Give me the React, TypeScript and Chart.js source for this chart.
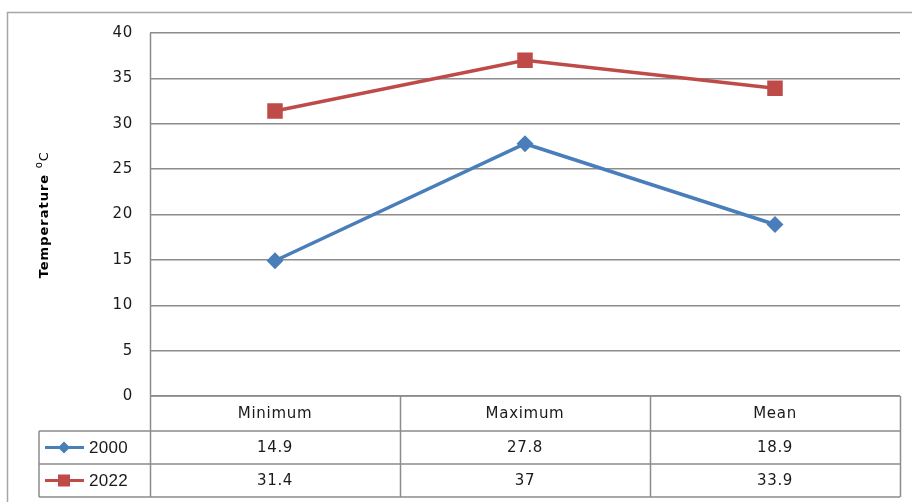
import React, { useEffect, useRef } from "react";
import { Chart, registerables } from "chart.js";

Chart.register(...registerables);

const categories = ["Minimum", "Maximum", "Mean"];
const seriesNames = ["2000", "2022"];
const values2000 = [14.9, 27.8, 18.9];
const values2022 = [31.4, 37, 33.9];
const tableLabels2000 = ["14.9", "27.8", "18.9"];
const tableLabels2022 = ["31.4", "37", "33.9"];
const yTicks = [0, 5, 10, 15, 20, 25, 30, 35, 40];

const BLUE = "#4a7ebb";
const RED = "#be4b48";
const GRID = "#8c8c8c";
const BORDER = "#a6a6a6";
const TEXT = "#1a1a1a";

const tablePlugin = {
  id: "tablePlugin",
  afterDraw(chart: any) {
    const ctx = chart.ctx as any;
    const area = chart.chartArea;
    const x = chart.scales.x;
    const y = chart.scales.y;
    const left = area.left;
    const right = area.right;
    const top = area.bottom;
    const rowH = [35, 33, 33];
    const legendLeft = 39;
    const y1 = top + rowH[0];
    const y2 = y1 + rowH[1];
    const y3 = y2 + rowH[2];
    const n = categories.length;
    const colW = (right - left) / n;

    ctx.save();
    // outer border
    ctx.strokeStyle = BORDER;
    ctx.lineWidth = 1.5;
    ctx.beginPath();
    ctx.moveTo(7.5, 502);
    ctx.lineTo(7.5, 12.5);
    ctx.lineTo(912, 12.5);
    ctx.stroke();

    ctx.strokeStyle = GRID;
    ctx.lineWidth = 1.5;
    ctx.beginPath();
    ctx.moveTo(left, top);
    ctx.lineTo(right, top);
    ctx.moveTo(legendLeft, y1);
    ctx.lineTo(right, y1);
    ctx.moveTo(legendLeft, y2);
    ctx.lineTo(right, y2);
    ctx.moveTo(legendLeft, y3);
    ctx.lineTo(right, y3);
    ctx.moveTo(legendLeft, y1);
    ctx.lineTo(legendLeft, y3);
    for (let i = 0; i <= n; i++) {
      const cx = Math.round(left + i * colW) + 0.5;
      ctx.moveTo(cx, i === 0 ? area.top : top);
      ctx.lineTo(cx, y3);
    }
    ctx.stroke();

    // y tick labels
    ctx.fillStyle = TEXT;
    ctx.letterSpacing = "0.7px";
    ctx.font = "15px 'DejaVu Sans'";
    ctx.textAlign = "right";
    ctx.textBaseline = "middle";
    for (const v of yTicks) {
      ctx.fillText(String(v), 133, y.getPixelForValue(v));
    }

    ctx.textAlign = "center";
    for (let i = 0; i < n; i++) {
      const cx = x.getPixelForValue(i);
      ctx.fillText(categories[i], cx, top + rowH[0] / 2 + 1);
      ctx.fillText(tableLabels2000[i], cx, y1 + rowH[1] / 2 + 1);
      ctx.fillText(tableLabels2022[i], cx, y2 + rowH[2] / 2 + 1);
    }

    // legend keys
    const keys = [
      { name: seriesNames[0], color: BLUE, y: y1 + rowH[1] / 2, style: "diamond" },
      { name: seriesNames[1], color: RED, y: y2 + rowH[2] / 2, style: "square" },
    ];
    for (const k of keys) {
      ctx.strokeStyle = k.color;
      ctx.lineWidth = 3;
      ctx.beginPath();
      ctx.moveTo(45, k.y);
      ctx.lineTo(84, k.y);
      ctx.stroke();
      ctx.fillStyle = k.color;
      ctx.beginPath();
      if (k.style === "diamond") {
        ctx.moveTo(64, k.y - 6);
        ctx.lineTo(70, k.y);
        ctx.lineTo(64, k.y + 6);
        ctx.lineTo(58, k.y);
        ctx.closePath();
      } else {
        ctx.rect(58, k.y - 6, 12, 12);
      }
      ctx.fill();
      ctx.fillStyle = TEXT;
      ctx.textAlign = "left";
      ctx.letterSpacing = "0.3px";
      ctx.font = "17px 'Liberation Sans'";
      ctx.fillText(k.name, 89, k.y + 1);
    }

    // y axis title
    ctx.save();
    ctx.translate(45, (area.top + area.bottom) / 2);
    ctx.rotate(-Math.PI / 2);
    ctx.fillStyle = "#000";
    ctx.letterSpacing = "1px";
    ctx.font = "bold 13px 'DejaVu Sans'";
    const main = "Temperature ";
    const mw = ctx.measureText(main).width;
    ctx.font = "10px 'DejaVu Sans'";
    const sw = ctx.measureText("o").width;
    ctx.font = "bold 13px 'DejaVu Sans'";
    const cw = ctx.measureText("C").width;
    const total = mw + sw + cw;
    let px = -total / 2;
    ctx.textAlign = "left";
    ctx.textBaseline = "middle";
    ctx.fillText(main, px, 0);
    px += mw;
    ctx.font = "10px 'DejaVu Sans'";
    ctx.fillText("o", px, -6);
    px += sw;
    ctx.font = "13px 'DejaVu Sans'";
    ctx.fillText("C", px, 0);
    ctx.restore();

    ctx.restore();
  },
};

export default function App() {
  const ref = useRef<HTMLCanvasElement | null>(null);
  useEffect(() => {
    if (!ref.current) return;
    const chart = new Chart(ref.current, {
      type: "line",
      data: {
        labels: categories,
        datasets: [
          {
            label: seriesNames[0],
            data: values2000,
            borderColor: BLUE,
            backgroundColor: BLUE,
            borderWidth: 3.5,
            pointStyle: "rectRot",
            pointRadius: 6,
            pointHoverRadius: 6,
            tension: 0,
          },
          {
            label: seriesNames[1],
            data: values2022,
            borderColor: RED,
            backgroundColor: RED,
            borderWidth: 3.5,
            pointStyle: "rect",
            pointRadius: 8.5,
            pointHoverRadius: 8.5,
            tension: 0,
          },
        ],
      },
      options: {
        animation: false,
        responsive: false,
        maintainAspectRatio: false,
        layout: { padding: { left: 0, top: 33, right: 8, bottom: 106 } },
        plugins: {
          legend: { display: false },
          tooltip: { enabled: false },
          title: { display: false },
        },
        scales: {
          x: {
            type: "category",
            offset: true,
            display: false,
            grid: { display: false },
          },
          y: {
            min: 0,
            max: 40,
            afterFit(scale: any) {
              scale.width = 150;
            },
            afterBuildTicks(scale: any) {
              scale.ticks = yTicks.map((v) => ({ value: v }));
            },
            border: { display: false },
            grid: { color: GRID, lineWidth: 1.5, drawTicks: false },
            ticks: { display: false },
          },
        },
      },
      plugins: [tablePlugin],
    });
    return () => chart.destroy();
  }, []);
  return (
    <div style={{ position: "fixed", left: 0, top: 0, width: 912, height: 502, background: "#fff" }}>
      <canvas ref={ref} width={912} height={502} style={{ width: 912, height: 502 }} />
    </div>
  );
}
